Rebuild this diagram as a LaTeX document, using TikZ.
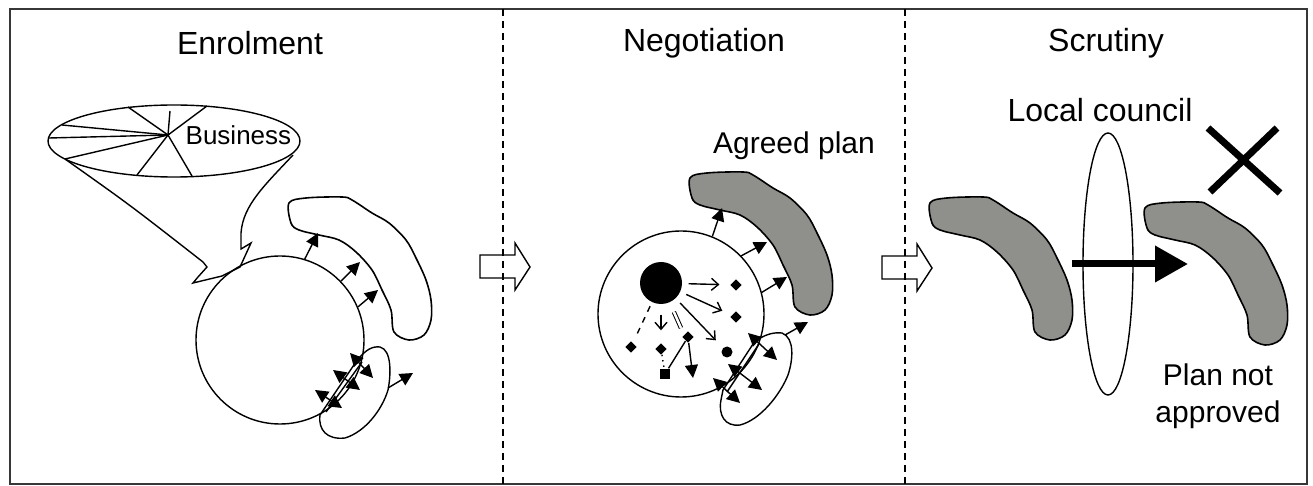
\documentclass[tikz,border=0pt]{standalone}
\usepackage{fontspec}
\setmainfont{Liberation Sans}
\usetikzlibrary{arrows.meta, shapes.geometric}

\definecolor{plangray}{RGB}{143,143,140}
\definecolor{framegray}{RGB}{55,55,55}

% outline of a plan, top left corner at the origin
\newcommand{\planoutline}{plot[smooth cycle, tension=0.55] coordinates {(0,6) (17,1) (53,0) (63,3) (83,16) (100,26) (117,43) (127,61) (137,83) (142,103) (142,123) (135,138) (120,143) (105,135) (102,113) (93,93) (83,73) (67,55) (50,43) (30,38) (10,33) (2,26)}}

\begin{document}
\begin{tikzpicture}[x=0.5pt, y=-0.5pt, line width=0.7pt,
	title/.style={font=\fontsize{16}{19}\selectfont, anchor=base, inner sep=0},
	caption/.style={font=\fontsize{15}{18.5}\selectfont, anchor=base, inner sep=0},
	plan/.style={draw, line width=0.8pt},
	push/.style={-{Triangle[length=6.5pt, width=6.5pt]}},
	both/.style={{Triangle[length=6.5pt, width=6.5pt]}-{Triangle[length=6.5pt, width=6.5pt]}},
	feed/.style={-{Straight Barb[length=3.5pt, width=6pt]}},
	token/.style={diamond, fill, inner sep=0, minimum size=6pt},
	divider/.style={dash pattern=on 3.5pt off 2.5pt, line width=0.6pt}]
	\useasboundingbox (0,0) rectangle (1313,486);

	% frame
	\draw [framegray, line width=1.2pt] (10,9) rectangle (1307,484);

	% block arrows between the stages
	\draw (480,255) -- (515,255) -- (515,243) -- (530,267) -- (515,290) -- (515,278) -- (480,278) -- cycle;
	\draw (882,256) -- (917,256) -- (917,244) -- (932,268) -- (917,291) -- (917,279) -- (882,279) -- cycle;

	% dividers
	\draw [divider] (503,9) -- (503,484);
	\draw [divider] (905,9) -- (905,484);

	% titles
	\node [title] (enrol) at (250,55) {Enrolment};
	\node [title] (negot) at (704,52) {Negotiation};
	\node [title] (scrut) at (1106,52) {Scrutiny};

	% enrolment: business funnel
	\node (business) at (174,141) [ellipse, draw, inner sep=0, minimum width=126pt, minimum height=36pt] {};
	\coordinate (hub) at (168,135);
	\foreach \sx/\sy in {128/107, 170/111, 207/106, 62/125, 49/138, 65/159, 137/175, 192/176}
		\draw (hub) -- (\sx,\sy);
	\node [font=\fontsize{13}{15}\selectfont, anchor=base west, inner sep=0] (busname) at (185,145) {Business};
	\draw (65,159) .. controls (130,205) .. (203,262) -- (207,267) -- (198,277) -- (193,283) -- (222,276) -- (240,267) -- (251,243) -- (241,249) -- (241,233) .. controls (243,205) and (265,185) .. (293,155);

	% enrolment: circle and plan
	\node (enrolcirc) at (280,340) [circle, draw, inner sep=0, minimum size=84pt] {};
	\draw [plan, fill=white, shift={(289,197)}] \planoutline;
	\coordinate (ep1) at (318,233);
	\coordinate (ep2) at (360,262);
	\coordinate (ep3) at (378,290);
	\draw [push] (enrolcirc.73) -- (ep1);
	\draw [push] (enrolcirc.44) -- (ep2);
	\draw [push] (enrolcirc.23) -- (ep3);

	% enrolment: small group
	\draw (358,359) .. controls (366,350) and (372,346) .. (380,347) .. controls (392,350) and (391,375) .. (388,390) .. controls (382,410) and (365,432) .. (345,438) .. controls (327,440) and (318,430) .. (320,415) -- cycle;
	\draw (362,362) -- (326,412);
	\draw [both] (350,353) -- (373,378);
	\draw [both] (333,370) -- (360,390);
	\draw [both] (315,390) -- (342,408);
	\coordinate (eg1) at (388,388);
	\coordinate (eg2) at (413,373);
	\draw [push] (eg1) -- (eg2);

	% negotiation: circle, core and plan
	\node (negcirc) at (681,314) [circle, draw, inner sep=0, minimum size=83pt] {};
	\node (core) at (661,283) [circle, fill, inner sep=0, minimum size=21pt] {};
	\draw [plan, fill=plangray, shift={(690,172)}] \planoutline;
	\node [caption] (agreed) at (794,154) {Agreed plan};
	\coordinate (np1) at (722,208);
	\coordinate (np2) at (767,242);
	\coordinate (np3) at (787,277);
	\draw [push] (negcirc.68) -- (np1);
	\draw [push] (negcirc.44) -- (np2);
	\draw [push] (negcirc.15) -- (np3);

	% negotiation: members
	\node [token] (d1) at (736,285) {};
	\node [token] (d2) at (736,317) {};
	\node [circle, fill, inner sep=0, minimum size=5.5pt] (d3) at (727,352) {};
	\node [token] (d4) at (631,347) {};
	\node [token] (d5) at (661,349) {};
	\node [token] (d6) at (688,337) {};
	\node [rectangle, fill, inner sep=0, minimum size=5pt] (d7) at (665,374) {};
	\coordinate (d8) at (693,378);
	\coordinate (ticks) at (681,328);
	\draw [feed, shorten <=3pt, shorten >=5pt] (core) -- (d1);
	\draw [feed, shorten <=3pt, shorten >=5pt] (core) -- (d2);
	\draw [feed, shorten <=3pt, shorten >=5pt] (core) -- (d3);
	\draw [dashed, shorten <=2pt, shorten >=4pt] (core) -- (d4);
	\draw [feed, shorten <=5pt, shorten >=6pt] (core) -- (d5);
	\draw [double, double distance=1.2pt, line width=0.5pt, shorten <=5pt] (core) -- (ticks);
	\draw [push] (d6) -- (d8);
	\draw [dotted] (d5) -- (d7);
	\draw (d7) -- (d6);

	% negotiation: small group
	\draw (755,341) .. controls (765,335) and (772,332) .. (782,333) .. controls (795,338) and (793,360) .. (788,375) .. controls (780,395) and (760,420) .. (740,425) .. controls (725,427) and (718,415) .. (721,400) -- (723,390) -- cycle;
	\draw (759,344) -- (727,392);
	\draw [both] (748,333) -- (777,360);
	\draw [both] (728,364) -- (762,390);
	\draw [both] (713,378) -- (740,403);
	\coordinate (ng1) at (785,335);
	\coordinate (ng2) at (808,322);
	\draw [push] (ng1) -- (ng2);

	% scrutiny
	\draw [plan, fill=plangray, shift={(930,197)}] \planoutline;
	\draw [plan, fill=plangray, shift={(1145,202)}] \planoutline;
	\node (council) at (1108,264) [ellipse, draw, inner sep=0, minimum width=25pt, minimum height=131pt] {};
	\node [title] (councilname) at (1100,122) {Local council};
	\coordinate (pushfrom) at (1072,264);
	\coordinate (pushto) at (1188,264);
	\draw [line width=3.5pt, -{Triangle[length=16.5pt, width=17.5pt]}] (pushfrom) -- (pushto);
	\draw [line width=3.5pt] (1208,128) -- (1280,193) (1277,128) -- (1210,192);
	\node [caption, anchor=center, align=center] (refused) at (1218,396) {Plan not\\approved};
\end{tikzpicture}
\end{document}
